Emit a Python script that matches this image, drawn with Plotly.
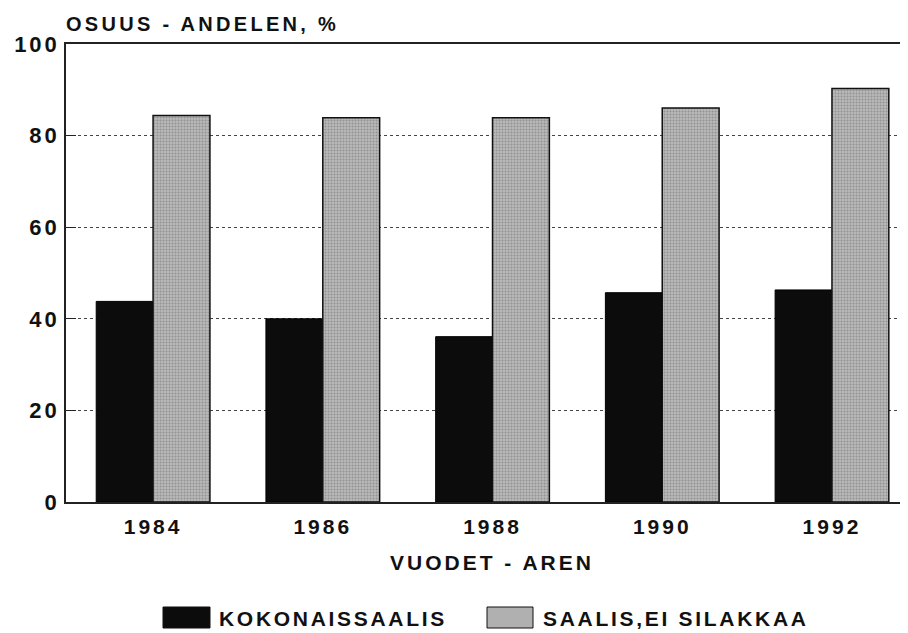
import plotly.graph_objects as go

years = ["1984", "1986", "1988", "1990", "1992"]
kokonais = [43.8, 40.0, 36.1, 45.7, 46.3]
ei_silakkaa = [84.4, 83.9, 83.9, 86.0, 90.3]
series_names = ["KOKONAISSAALIS", "SAALIS,EI SILAKKAA"]
y_ticks = [0, 20, 40, 60, 80, 100]
y_title = "OSUUS - ANDELEN, %"
x_title = "VUODET - AREN"

FONT = "Liberation Sans, Arial, sans-serif"
OFF = 8  # page body margin
W, H = 900, 625
L, R, T, B = 66 - OFF, 0, 44 - OFF, 625 - (502 - OFF)
pw, ph = W - L - R, H - T - B


def px(x):  # screen px -> paper
    return (x - OFF - L) / pw


def py(y):
    return (H - B - (y - OFF)) / ph


def sp(t, s=3):
    return f'<span style="letter-spacing:{s}px">{t}</span>'


xs = list(range(len(years)))
fig = go.Figure()
fig.add_trace(go.Bar(x=xs, y=kokonais, name=series_names[0],
                     marker=dict(color="#0c0c0c", line=dict(color="#000", width=1))))
fig.add_trace(go.Bar(x=xs, y=ei_silakkaa, name=series_names[1],
                     marker=dict(color="#ababab", line=dict(color="#111", width=1.5),
                                 pattern=dict(shape=".", fgcolor="#6a6a6a", bgcolor="#b8b8b8",
                                              size=3, solidity=0.35))))

fig.update_layout(
    width=W, height=H,
    margin=dict(l=L, r=R, t=T, b=B),
    paper_bgcolor="white", plot_bgcolor="white",
    barmode="group", bargap=0.33, bargroupgap=0,
    showlegend=False,
    font=dict(family=FONT, color="#111", weight="bold"),
)
fig.update_xaxes(
    range=[-0.513, 4.448], tickvals=xs, ticktext=[sp(y) for y in years],
    showgrid=False, zeroline=False,
    showline=True, linecolor="#222", linewidth=1.5, mirror=True,
    ticks="", ticklabelstandoff=5,
    tickfont=dict(size=21, family=FONT, color="#111", weight="bold"),
)
fig.update_yaxes(
    range=[0, 100], tickvals=y_ticks, ticktext=[sp(v) for v in y_ticks],
    showgrid=True, gridcolor="#444", griddash="dot", gridwidth=1,
    zeroline=False, showline=True, linecolor="#222", linewidth=1.5,
    ticks="inside", ticklen=10, tickcolor="#222", ticklabelstandoff=0,
    tickfont=dict(size=22, family=FONT, color="#111", weight="bold"),
)

fig.add_annotation(x=px(64), y=py(24), xref="paper", yref="paper",
                   text=sp(y_title, 3.3), showarrow=False,
                   xanchor="left", yanchor="middle",
                   font=dict(size=20, family=FONT, color="#111", weight="bold"))
fig.add_annotation(x=px(492), y=py(562), xref="paper", yref="paper",
                   text=sp(x_title, 3), showarrow=False,
                   xanchor="center", yanchor="middle",
                   font=dict(size=21, family=FONT, color="#111", weight="bold"))

# legend
leg = [(163, 210, "#0c0c0c", 217, series_names[0]),
       (487, 533, "#b0b0b0", 541, series_names[1])]
for x0, x1, col, tx, name in leg:
    fig.add_shape(type="rect", xref="paper", yref="paper",
                  x0=px(x0), x1=px(x1), y0=py(628), y1=py(607),
                  fillcolor=col, line=dict(color="#111", width=1))
    fig.add_annotation(x=px(tx), y=py(618), xref="paper", yref="paper",
                       text=sp(name, 2.7), showarrow=False, xanchor="left", yanchor="middle",
                       font=dict(size=21, family=FONT, color="#111", weight="bold"))

fig.write_html("out.html")
